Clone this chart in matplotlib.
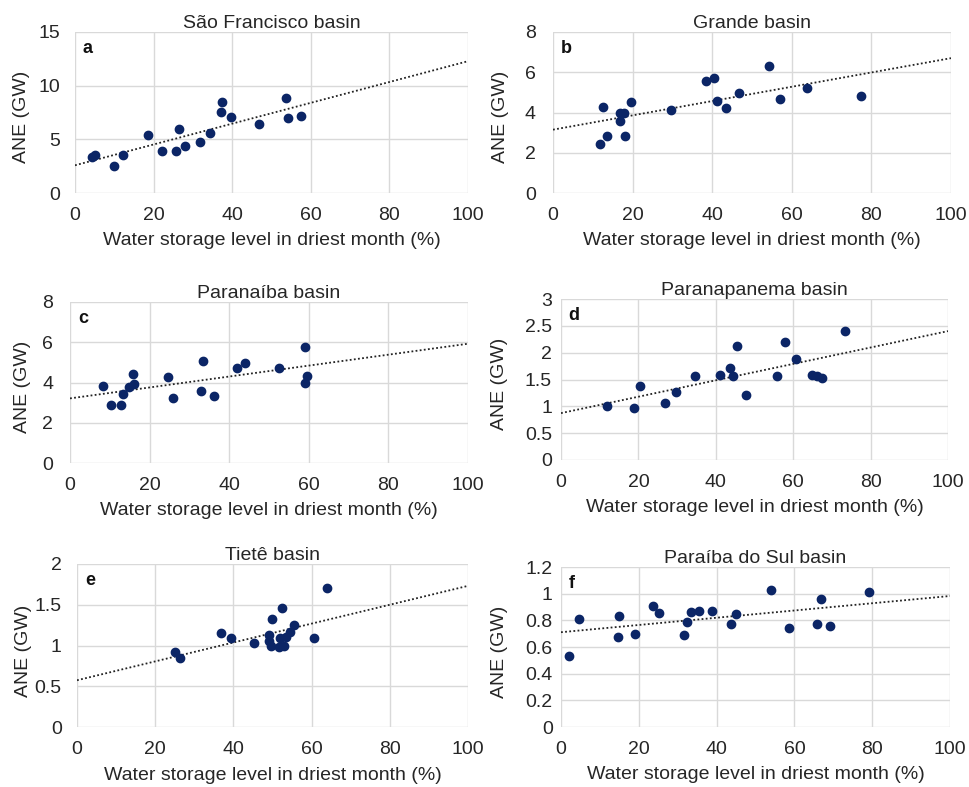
import numpy as np
import matplotlib.pyplot as plt

plt.rcParams['font.family'] = ['Liberation Sans', 'DejaVu Sans']

# values (x: storage %, y: ANE in GW)
sf_x = [4.2, 5.2, 9.8, 12.3, 18.6, 22.2, 25.8, 26.5, 27.9, 31.8, 34.3, 37.1, 37.4, 39.6, 46.8, 53.6, 54.3, 57.4]
sf_y = [3.35, 3.5, 2.5, 3.57, 5.37, 3.9, 3.88, 5.93, 4.38, 4.72, 5.62, 7.58, 8.5, 7.1, 6.43, 8.82, 7.02, 7.14]

gr_x = [11.9, 12.5, 13.5, 16.8, 16.8, 17.9, 18.2, 19.5, 29.6, 38.4, 40.4, 41.1, 43.5, 46.7, 54.2, 57.0, 63.7, 77.3]
gr_y = [2.41, 4.29, 2.81, 3.58, 3.96, 3.96, 2.83, 4.54, 4.13, 5.59, 5.72, 4.59, 4.24, 4.98, 6.31, 4.66, 5.21, 4.83]

pb_x = [8.4, 10.3, 12.8, 13.3, 14.8, 16.1, 15.9, 24.7, 25.9, 33.0, 33.4, 36.3, 42.0, 43.9, 52.6, 59.0, 59.0, 59.5]
pb_y = [3.82, 2.86, 2.86, 3.44, 3.77, 3.94, 4.42, 4.25, 3.23, 3.59, 5.08, 3.34, 4.70, 4.95, 4.70, 5.76, 3.99, 4.32]

pp_x = [11.8, 18.9, 20.4, 27.0, 29.8, 34.7, 41.0, 43.6, 44.5, 45.6, 47.9, 55.8, 58.0, 60.8, 64.9, 66.2, 67.4, 73.5]
pp_y = [1.00, 0.96, 1.38, 1.06, 1.26, 1.56, 1.59, 1.72, 1.56, 2.12, 1.21, 1.57, 2.19, 1.88, 1.59, 1.56, 1.52, 2.40]

ti_x = [25.1, 26.3, 36.8, 39.3, 45.3, 49.2, 49.1, 49.5, 49.8, 51.6, 52.0, 52.5, 52.9, 53.4, 54.5, 55.4, 60.7, 64.0]
ti_y = [0.92, 0.85, 1.15, 1.09, 1.03, 1.13, 1.05, 0.99, 1.32, 0.98, 1.09, 1.46, 0.99, 1.10, 1.17, 1.25, 1.09, 1.71]

ps_x = [2.1, 4.6, 14.7, 15.0, 19.1, 23.7, 25.2, 31.7, 32.3, 33.3, 35.4, 38.8, 43.7, 44.9, 54.1, 58.6, 65.7, 66.9, 69.2, 79.1]
ps_y = [0.535, 0.807, 0.677, 0.829, 0.700, 0.909, 0.854, 0.690, 0.784, 0.861, 0.869, 0.869, 0.774, 0.849, 1.028, 0.744, 0.769, 0.958, 0.757, 1.013]

titles = ['São Francisco basin', 'Grande basin', 'Paranaíba basin',
          'Paranapanema basin', 'Tietê basin', 'Paraíba do Sul basin']
letters = ['a', 'b', 'c', 'd', 'e', 'f']
y_max = [15, 8, 8, 3, 2, 1.2]
y_step = [5, 2, 2, 0.5, 0.5, 0.2]

series = [(sf_x, sf_y), (gr_x, gr_y), (pb_x, pb_y), (pp_x, pp_y), (ti_x, ti_y), (ps_x, ps_y)]

# axes boxes in pixels: left, right, top, bottom
W, H = 969, 787
boxes = [(75, 468, 32, 193), (553, 951, 32, 193),
         (70, 468, 302, 463), (561, 948, 299, 460),
         (77, 468, 564, 727), (561, 950, 567, 727)]
ytick_pad = [10.5, 12.5, 12, 6.5, 11, 6]
ylab_x = [-0.135, -0.133, -0.12, -0.159, -0.137, -0.159]

fig = plt.figure(figsize=(W / 100, H / 100), dpi=100)
dot_color = '#0b2566'
grid_color = '#d9d9d9'
txt = '#262626'

for i, (x, y) in enumerate(series):
    l, r, t, b = boxes[i]
    ax = fig.add_axes([l / W, 1 - b / H, (r - l) / W, (b - t) / H])
    ax.set_xlim(0, 100)
    ax.set_ylim(0, y_max[i])
    yt = np.arange(0, y_max[i] + 1e-9, y_step[i])
    ax.set_xticks(np.arange(0, 101, 20))
    ax.set_yticks(yt)
    ax.set_yticklabels(['%g' % v for v in yt])
    ax.grid(True, color=grid_color, linewidth=1)
    ax.set_axisbelow(True)
    for s in ax.spines.values():
        s.set_visible(False)
    ax.tick_params(length=0, labelsize=14, labelcolor=txt)
    ax.tick_params(axis='x', pad=10)
    ax.tick_params(axis='y', pad=ytick_pad[i])

    # linear trendline (least squares, as in the original)
    k, c0 = np.polyfit(x, y, 1)
    xx = np.array([0, 100])
    ax.plot(xx, c0 + k * xx, color='#222222', linestyle=(0, (1, 1.3)), linewidth=1.3, zorder=2)
    ax.scatter(x, y, s=36, color=dot_color, zorder=3, clip_on=False)

    ax.set_title(titles[i], fontsize=14, pad=3, color=txt)
    ax.set_xlabel('Water storage level in driest month (%)', fontsize=14, color=txt, va='center')
    ax.xaxis.set_label_coords(0.5, -0.295)
    ax.set_ylabel('ANE (GW)', fontsize=14, color=txt, va='center')
    ax.yaxis.set_label_coords(ylab_x[i], 0.47)
    ax.text(0.02, 0.90, letters[i], transform=ax.transAxes, fontsize=13,
            fontweight='bold', va='center', ha='left', color='#111111')

fig.savefig('out.png', dpi=100, facecolor='white')
